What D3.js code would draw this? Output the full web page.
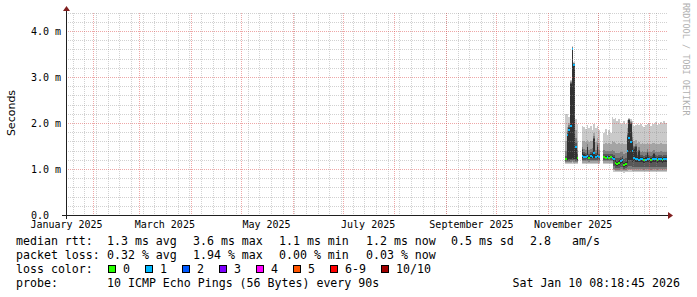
<!DOCTYPE html>
<html>
<head>
<meta charset="utf-8">
<script src="https://cdn.jsdelivr.net/npm/d3@7"></script>
<style>
  body { margin: 0; background: #fff; }
  svg { display: block; }
  text { font-family: "DejaVu Sans Mono", monospace; white-space: pre; }
</style>
</head>
<body>
<svg id="chart" width="697" height="297"></svg>
<script>
// one bin per day, first bin is 2025-11-11, null = no data
var firstDay = "2025-11-11";

// sorted ping times (ms), ping1 = fastest ... ping10 = slowest
var ping1 = [1.13,1.11,1.12,1.12,1.13,1.12,1.11,1.12,null,null,
  1.12,1.12,1.12,1.12,1.12,1.12,1.12,1.12,1.12,1.12,1.12,null,null,
  1.12,1.12,1.12,1.12,1.12,
  1.12,0.95,0.94,0.94,0.94,0.94,0.94,0.93,0.94,
  0.94,0.95,0.95,0.94,
  0.94,0.94,0.94,0.94,0.94,0.94,0.94,0.94,0.94,0.94,0.94,0.94,0.94,0.94,0.94,0.94,0.94,0.94,0.94,0.94];
var ping2 = [1.15,1.14,1.15,1.15,1.16,1.15,1.14,1.15,null,null,
  1.15,1.15,1.15,1.15,1.15,1.15,1.15,1.15,1.15,1.15,1.15,null,null,
  1.15,1.15,1.15,1.15,1.15,
  1.15,0.98,0.97,0.96,0.97,0.97,0.97,0.96,0.96,
  0.97,0.98,0.98,0.97,
  0.97,0.97,0.97,0.97,0.97,0.97,0.97,0.97,0.97,0.97,0.97,0.97,0.97,0.97,0.97,0.97,0.97,0.97,0.97,0.97];
var ping3 = [1.17,1.16,1.17,1.17,1.18,1.17,1.16,1.17,null,null,
  1.18,1.18,1.18,1.18,1.17,1.18,1.18,1.18,1.18,1.18,1.18,null,null,
  1.18,1.18,1.18,1.18,1.18,
  1.18,1.02,1.00,0.99,1.00,1.01,1.01,0.99,0.99,
  1.01,1.02,1.02,1.01,
  1.01,1.01,1.01,1.01,1.01,1.01,1.00,1.01,1.01,1.01,1.00,1.01,1.01,1.01,1.00,1.01,1.01,1.00,1.01,1.01];
var ping4 = [1.19,1.18,1.19,1.20,1.21,1.20,1.19,1.19,null,null,
  1.21,1.21,1.21,1.21,1.20,1.21,1.21,1.21,1.21,1.21,1.21,null,null,
  1.21,1.21,1.21,1.21,1.21,
  1.21,1.08,1.04,1.03,1.04,1.06,1.06,1.02,1.03,
  1.06,1.08,1.08,1.06,
  1.06,1.06,1.06,1.06,1.06,1.06,1.05,1.06,1.06,1.06,1.05,1.06,1.06,1.06,1.05,1.06,1.06,1.05,1.06,1.06];
var ping5 = [1.21,1.20,1.22,1.23,1.24,1.23,1.22,1.21,null,null,
  1.24,1.25,1.24,1.25,1.23,1.25,1.24,1.25,1.24,1.25,1.24,null,null,
  1.24,1.24,1.24,1.24,1.24,
  1.23,1.18,1.10,1.08,1.10,1.13,1.14,1.06,1.08,
  1.15,1.20,1.20,1.17,
  1.18,1.17,1.17,1.16,1.17,1.17,1.15,1.16,1.17,1.17,1.15,1.17,1.17,1.17,1.15,1.17,1.17,1.15,1.17,1.17];
var ping6 = [1.25,1.78,1.90,2.86,3.64,3.29,1.52,1.28,null,null,
  1.42,1.33,1.31,1.48,1.29,1.33,1.35,1.67,1.31,1.50,1.30,null,null,
  1.30,1.29,1.30,1.29,1.30,
  1.29,1.27,1.20,1.17,1.20,1.23,1.25,1.15,1.17,
  1.70,2.07,2.00,1.60,
  1.45,1.50,1.28,1.40,1.27,1.28,1.25,1.27,1.35,1.27,1.25,1.28,1.33,1.27,1.25,1.27,1.28,1.25,1.27,1.27];
var ping7 = [1.30,1.80,1.93,2.88,3.65,3.30,1.58,1.33,null,null,
  1.45,1.37,1.35,1.50,1.33,1.37,1.40,1.69,1.35,1.53,1.34,null,null,
  1.34,1.33,1.34,1.33,1.34,
  1.34,1.31,1.26,1.24,1.26,1.28,1.30,1.22,1.24,
  1.74,2.08,2.02,1.64,
  1.48,1.52,1.32,1.43,1.31,1.32,1.30,1.31,1.38,1.31,1.30,1.32,1.36,1.31,1.30,1.31,1.32,1.30,1.31,1.31];
var ping8 = [1.40,1.84,1.97,2.90,3.66,3.31,1.68,1.42,null,null,
  1.50,1.45,1.43,1.55,1.42,1.45,1.47,1.72,1.43,1.58,1.42,null,null,
  1.42,1.40,1.41,1.40,1.41,
  1.42,1.40,1.36,1.35,1.36,1.37,1.38,1.33,1.35,
  1.80,2.09,2.04,1.70,
  1.52,1.56,1.40,1.48,1.39,1.40,1.38,1.39,1.44,1.39,1.38,1.40,1.42,1.39,1.38,1.39,1.40,1.38,1.39,1.39];
var ping9 = [1.62,1.92,2.02,2.92,3.67,3.32,1.85,1.62,null,null,
  1.62,1.62,1.60,1.65,1.60,1.63,1.62,1.80,1.60,1.68,1.58,null,null,
  1.56,1.58,1.55,1.57,1.56,
  1.62,1.60,1.58,1.56,1.58,1.56,1.57,1.55,1.56,
  1.90,2.10,2.06,1.82,
  1.62,1.65,1.57,1.60,1.56,1.57,1.55,1.56,1.58,1.56,1.55,1.57,1.57,1.56,1.55,1.56,1.57,1.55,1.56,1.56];
var ping10 = [2.21,2.20,2.15,2.95,3.68,3.33,2.10,2.00,null,null,
  1.95,1.92,1.88,1.97,1.90,1.95,1.85,1.98,1.90,1.95,1.85,null,null,
  1.80,1.88,1.75,1.85,1.80,
  2.14,2.10,2.12,2.05,2.10,2.00,1.98,2.05,2.00,
  2.08,2.12,2.10,2.05,
  1.95,1.96,1.98,1.97,2.00,1.95,1.92,1.97,2.00,2.02,1.95,2.00,1.98,2.03,1.97,2.00,2.04,1.98,2.05,2.02];
var median = [1.23,1.75,1.85,1.95,3.63,3.27,1.50,1.25,null,null,
  1.30,1.28,1.27,1.30,1.25,1.30,1.28,1.35,1.28,1.30,1.27,null,null,
  1.27,1.26,1.27,1.26,1.27,
  1.25,1.22,1.15,1.12,1.15,1.18,1.20,1.10,1.12,
  1.40,1.68,1.60,1.40,
  1.25,1.23,1.22,1.20,1.22,1.22,1.20,1.21,1.22,1.22,1.20,1.22,1.23,1.22,1.20,1.22,1.22,1.20,1.22,1.22];
// average lost pings (of 10) per bin
var lostPings = [0,0.1,0.1,0.1,0.1,0.1,0.1,0,null,null,
  0.1,0.1,0.1,0.1,0,0.1,0.1,0.1,0.1,0.1,0.1,null,null,
  0,0,0.1,0,0,
  0.1,0.1,0,0,0,0.1,0.1,0,0,
  0.1,0.1,0.1,0.1,
  0.1,0.1,0.1,0.1,0.1,0.1,0,0.1,0.1,0.1,0,0.1,0.1,0.1,0,0.1,0.1,0,0.1,0.1];

var lossLabels = ["0", "1", "2", "3", "4", "5", "6-9", "10/10"];
var lossLimits = [0, 1, 2, 3, 4, 5, 9, 10];
var lossColors = ["#26ff00", "#00b8ff", "#0059ff", "#7e00ff", "#ff00ff", "#ff5500", "#ff0000", "#a10000"];
var smokeColors = ["#cacaca", "#a4a4a4", "#7e7e7e", "#585858", "#323232"];

var yTicks = [0, 1, 2, 3, 4];
var yTickLabels = ["0.0  ", "1.0 m", "2.0 m", "3.0 m", "4.0 m"];

var legendRtt = [["median rtt:", 16], ["1.3 ms avg", 107], ["3.6 ms max", 193], ["1.1 ms min", 279],
  ["1.2 ms now", 366], ["0.5 ms sd", 451], ["2.8", 530], ["am/s", 572]];
var legendLoss = [["packet loss:", 16], ["0.32 % avg", 107], ["1.94 % max", 193], ["0.00 % min", 279], ["0.03 % now", 366]];
var probeText = "10 ICMP Echo Pings (56 Bytes) every 90s";
var stampText = "Sat Jan 10 08:18:45 2026";

var svg = d3.select("#chart");

var x = d3.scaleUtc()
    .domain([new Date(Date.UTC(2025, 0, 16)), new Date(Date.UTC(2026, 0, 11))])
    .range([66.5, 666.5]);
var y = d3.scaleLinear().domain([0, 4.4]).range([215.5, 13.1]);

var plotTop = 13, plotBottom = 215, plotLeft = 66, plotRight = 667;

function px(v) { return Math.floor(v) + 0.5; }

var days = d3.utcDay.range(new Date(firstDay + "T00:00:00Z"), d3.utcDay.offset(new Date(firstDay + "T00:00:00Z"), ping1.length));
var pings = [ping1, ping2, ping3, ping4, ping5, ping6, ping7, ping8, ping9, ping10];

var bins = days.map(function(d, i) {
    return {
        t0: d, t1: d3.utcDay.offset(d, 1),
        p: pings.map(function(a) { return a[i]; }),
        med: median[i], loss: lostPings[i]
    };
}).filter(function(b) { return b.med != null; });

// smoke: outer pair first, darker inner pairs on top
var smoke = svg.append("g").attr("shape-rendering", "crispEdges");
smokeColors.forEach(function(col, k) {
    smoke.selectAll(".s" + k)
        .data(bins)
        .enter().append("rect")
        .attr("x", function(b) { return Math.round(x(b.t0)); })
        .attr("width", function(b) { return Math.round(x(b.t1)) - Math.round(x(b.t0)); })
        .attr("y", function(b) { return y(b.p[9 - k]); })
        .attr("height", function(b) { return Math.max(1, y(b.p[k]) - y(b.p[9 - k])); })
        .attr("fill", col);
});

function lossColor(l) {
    for (var i = 0; i < lossLimits.length; i++) {
        if (l <= lossLimits[i]) return lossColors[i];
    }
    return lossColors[lossColors.length - 1];
}

// median rtt, coloured by loss
svg.append("g").attr("shape-rendering", "crispEdges")
    .selectAll("rect")
    .data(bins)
    .enter().append("rect")
    .attr("x", function(b) { return Math.round(x(b.t0)); })
    .attr("width", function(b) { return Math.round(x(b.t1)) - Math.round(x(b.t0)); })
    .attr("y", function(b) { return y(b.med) - 1; })
    .attr("height", 2)
    .attr("fill", function(b) { return lossColor(b.loss); });

// grid, drawn over the data like rrdtool does
var grid = svg.append("g").attr("shape-rendering", "crispEdges");
var minorY = d3.range(0.2, 4.41, 0.2).filter(function(v) { return Math.abs(v - Math.round(v)) > 0.01; });
grid.selectAll(".hmin").data(minorY).enter().append("line")
    .attr("x1", plotLeft).attr("x2", plotRight)
    .attr("y1", function(v) { return px(y(v)); }).attr("y2", function(v) { return px(y(v)); })
    .attr("stroke", "rgba(140,140,140,0.4)").attr("stroke-dasharray", "1,1");

var mondays = d3.utcMonday.range(x.domain()[0], x.domain()[1]);
grid.selectAll(".vmin").data(mondays).enter().append("line")
    .attr("x1", function(d) { return px(x(d)); }).attr("x2", function(d) { return px(x(d)); })
    .attr("y1", plotTop).attr("y2", plotBottom)
    .attr("stroke", "rgba(140,140,140,0.4)").attr("stroke-dasharray", "1,1");

var months = d3.utcMonth.range(x.domain()[0], x.domain()[1]);
grid.selectAll(".vmaj").data(months).enter().append("line")
    .attr("x1", function(d) { return px(x(d)); }).attr("x2", function(d) { return px(x(d)); })
    .attr("y1", plotTop).attr("y2", plotBottom)
    .attr("stroke", "rgba(222,79,79,0.5)").attr("stroke-dasharray", "1,1");

grid.selectAll(".hmaj").data(yTicks.slice(1)).enter().append("line")
    .attr("x1", plotLeft).attr("x2", plotRight)
    .attr("y1", function(v) { return px(y(v)); }).attr("y2", function(v) { return px(y(v)); })
    .attr("stroke", "rgba(222,79,79,0.5)").attr("stroke-dasharray", "1,1");

// axes
svg.append("line").attr("x1", 62).attr("x2", 670).attr("y1", 215.5).attr("y2", 215.5)
    .attr("stroke", "#1f1f1f").attr("shape-rendering", "crispEdges");
svg.append("line").attr("x1", 66.5).attr("x2", 66.5).attr("y1", 219).attr("y2", 9)
    .attr("stroke", "#1f1f1f").attr("shape-rendering", "crispEdges");
svg.append("path").attr("d", "M668,212L668,219L673,215.5Z").attr("fill", "#801f1f");
svg.append("path").attr("d", "M63,11L70,11L66.5,6Z").attr("fill", "#801f1f");

// tick labels
svg.append("g").selectAll("text").data(yTicks).enter().append("text")
    .attr("x", 61).attr("y", function(v) { return px(y(v)) + 3.5; })
    .attr("text-anchor", "end").attr("font-size", "10px").attr("fill", "#000")
    .text(function(v, i) { return yTickLabels[i]; });

var monthFmt = d3.utcFormat("%B %Y");
var labelMonths = d3.utcMonth.every(2).range(new Date(Date.UTC(2025, 0, 1)), x.domain()[1])
    .filter(function(d) { return x(d3.utcDay.offset(d, 15)) <= x.range()[1]; });
svg.append("g").selectAll("text").data(labelMonths).enter().append("text")
    .attr("x", function(d) { return x(d3.utcDay.offset(d, 15)); })
    .attr("y", 228)
    .attr("text-anchor", "middle").attr("font-size", "10px").attr("fill", "#000")
    .text(function(d) { return monthFmt(d); });

svg.append("text")
    .attr("transform", "translate(15,113) rotate(-90)")
    .attr("text-anchor", "middle").attr("font-size", "11px").attr("fill", "#000")
    .style("font-family", "'DejaVu Sans', sans-serif")
    .text("Seconds");

svg.append("text")
    .attr("transform", "translate(683,3) rotate(90)")
    .attr("font-size", "8.5px").attr("fill", "#b0b0b0")
    .text("RRDTOOL / TOBI OETIKER");

// legend
var lg = svg.append("g").attr("font-size", "11.6px").attr("fill", "#000");
lg.selectAll(".r1").data(legendRtt).enter().append("text")
    .attr("x", function(d) { return d[1]; }).attr("y", 245).text(function(d) { return d[0]; });
lg.selectAll(".r2").data(legendLoss).enter().append("text")
    .attr("x", function(d) { return d[1]; }).attr("y", 259).text(function(d) { return d[0]; });
lg.append("text").attr("x", 16).attr("y", 273).text("loss color:");

var swatchX = [108, 145, 182, 219, 256, 293, 330, 381];
var sw = lg.selectAll(".sw").data(lossLabels).enter().append("g");
sw.append("rect")
    .attr("x", function(d, i) { return swatchX[i] + 0.5; }).attr("y", 265.5)
    .attr("width", 7).attr("height", 7)
    .attr("fill", function(d, i) { return lossColors[i]; })
    .attr("stroke", "#000");
sw.append("text")
    .attr("x", function(d, i) { return swatchX[i] + 15; }).attr("y", 273)
    .text(function(d) { return d; });

lg.append("text").attr("x", 16).attr("y", 287).text("probe:");
lg.append("text").attr("x", 107).attr("y", 287).text(probeText);
lg.append("text").attr("x", 680).attr("y", 287).attr("text-anchor", "end").text(stampText);
</script>
</body>
</html>
